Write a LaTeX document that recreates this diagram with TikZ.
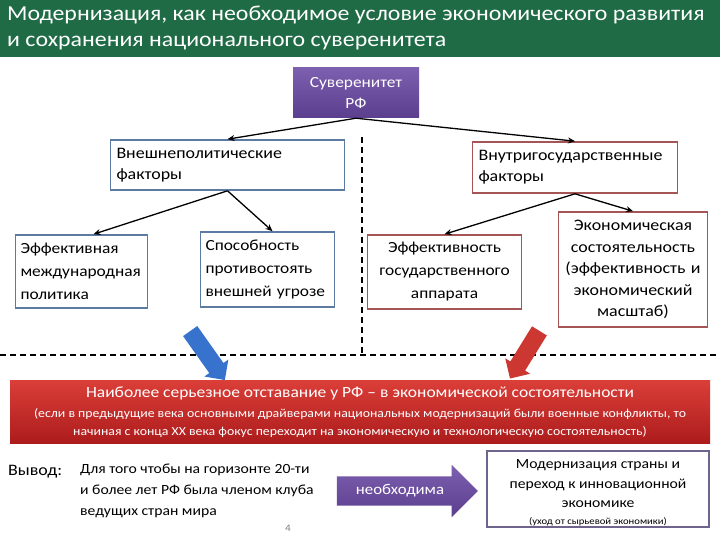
\documentclass[tikz,border=0pt]{standalone}
\usepackage{fontspec}
\setmainfont{Carlito}[FakeStretch=1.12]
\usetikzlibrary{positioning,arrows.meta,shapes.arrows,calc}

\definecolor{titlegreen}{RGB}{31,107,69}
\definecolor{sovtop}{RGB}{125,95,175}
\definecolor{sovbot}{RGB}{92,62,142}
\definecolor{boxblue}{RGB}{92,122,162}
\definecolor{boxred}{RGB}{165,85,85}
\definecolor{bannertop}{RGB}{218,62,56}
\definecolor{bannerbot}{RGB}{172,28,28}
\definecolor{arrblue}{RGB}{55,115,205}
\definecolor{arrred}{RGB}{205,55,50}
\definecolor{goalframe}{RGB}{110,100,140}

\begin{document}
\begin{tikzpicture}[x=1pt, y=-1pt,
  every node/.style={font=\fontsize{16}{21}\selectfont},
  box/.style={draw, line width=1.6pt, inner sep=6pt, fill=white},
  extbox/.style={box, draw=boxblue, align=left},
  intbox/.style={box, draw=boxred, align=center},
  lowbox/.style={inner xsep=5pt, font=\fontsize{15.5}{23}\selectfont},
  arr/.style={-{Stealth[length=7pt,width=6pt]}, line width=1.3pt},
  dline/.style={line width=1.8pt, dash pattern=on 6pt off 4pt},
  fatarrow/.style={single arrow, draw=none, inner sep=8.5pt, single arrow head extend=6pt},
]
\useasboundingbox (0,0) rectangle (720,540);

% title bar
\fill[titlegreen] (0,0) rectangle (720,57);
\node[anchor=north west, text=white, align=left, inner sep=0pt,
  font=\fontsize{21.3}{26}\selectfont] (title) at (7,6)
  {Модернизация, как необходимое условие экономического развития\\
   и сохранения национального суверенитета};

% top of the tree
\node[draw=none, top color=sovtop, bottom color=sovbot, text=white, align=center,
  minimum width=126, minimum height=50, font=\fontsize{15.5}{21}\selectfont]
  (sov) at (356,93) {Суверенитет\\РФ};

\node[extbox, text width=222, minimum height=50] (ext) at (227.5,165)
  {Внешнеполитические\\факторы};
\node[box, draw=boxred, align=left, text width=193, minimum height=51] (int) at (575,167.5)
  {Внутригосударственные\\факторы};

\node[extbox, lowbox, text width=122, minimum height=73] (eff) at (81.5,271.5)
  {Эффективная\\международная\\политика};
\node[extbox, lowbox, text width=124, minimum height=75] (cap) at (267.5,269.5)
  {Способность\\противостоять\\внешней угрозе};
\node[intbox, lowbox, text width=144, minimum height=74] (gov) at (444.5,272)
  {Эффективность\\государственного\\аппарата};
\node[intbox, text width=137, minimum height=115, font=\fontsize{16}{21.5}\selectfont] (econ) at (633,269.5)
  {Экономическая\\состоятельность\\(эффективность и\\экономический\\масштаб)};

\draw[arr] (sov.south) -- (ext.north);
\draw[arr] (sov.south) -- (int.north);
\draw[arr] (ext.south) -- ([xshift=12pt]eff.north);
\draw[arr] (ext.south) -- ([xshift=5pt]cap.north);
\draw[arr] (int.south) -- (gov.north);
\draw[arr] (int.south) -- (econ.north);

% separators
\coordinate (vtop) at (362,137);
\coordinate (vbot) at (362,355);
\coordinate (hleft) at (0,355);
\coordinate (hright) at (720,355);
\draw[dline] (vtop) -- (vbot);
\draw[dline] (hleft) -- (hright);

% block arrows
\node[fatarrow, fill=arrblue, minimum height=60, rotate=-54.7] (bluearr) at (205,352) {};
\node[fatarrow, fill=arrred, minimum height=56, rotate=-121.7] (redarr) at (527,351) {};

% banner
\node[draw=none, top color=bannertop, bottom color=bannerbot, text=white, align=center,
  minimum width=700, minimum height=63, inner sep=2pt,
  font=\fontsize{12.3}{18}\selectfont] (lag) at (360,412)
  {{\fontsize{15.6}{18}\selectfont Наиболее серьезное отставание у РФ – в экономической состоятельности}\\[2pt]
   (если в предыдущие века основными драйверами национальных модернизаций были военные конфликты, то\\
   начиная с конца XX века фокус переходит на экономическую и технологическую состоятельность)};

% conclusion
\node[anchor=base west, inner sep=0pt, font=\fontsize{16}{20}\selectfont] (out) at (8,475) {Вывод:};
\node[anchor=north west, align=left, inner sep=0pt, font=\fontsize{14}{21}\selectfont]
  (cond) at (80,464) {Для того чтобы на горизонте 20-ти\\и более лет РФ была членом клуба\\ведущих стран мира};

\node[single arrow, draw=none, top color=sovtop, bottom color=sovbot, text=white,
  minimum height=141, inner ysep=8pt, single arrow head extend=11.5pt,
  font=\fontsize{15}{18}\selectfont] (need) at (400,491) {необходима};

\node[draw=goalframe, line width=1.5pt, minimum width=222, minimum height=76] (goal) at (598,489) {};
\node[align=center, inner sep=0pt, font=\fontsize{14}{19.5}\selectfont, yshift=-4pt] (goaltext) at (goal.center)
  {Модернизация страны и\\переход к инновационной\\экономике\\[-3pt]
   {\fontsize{9.5}{11}\selectfont (уход от сырьевой экономики)}};

\node[text=gray, font=\fontsize{10}{12}\selectfont] (page) at (288,528) {4};
\end{tikzpicture}
\end{document}
